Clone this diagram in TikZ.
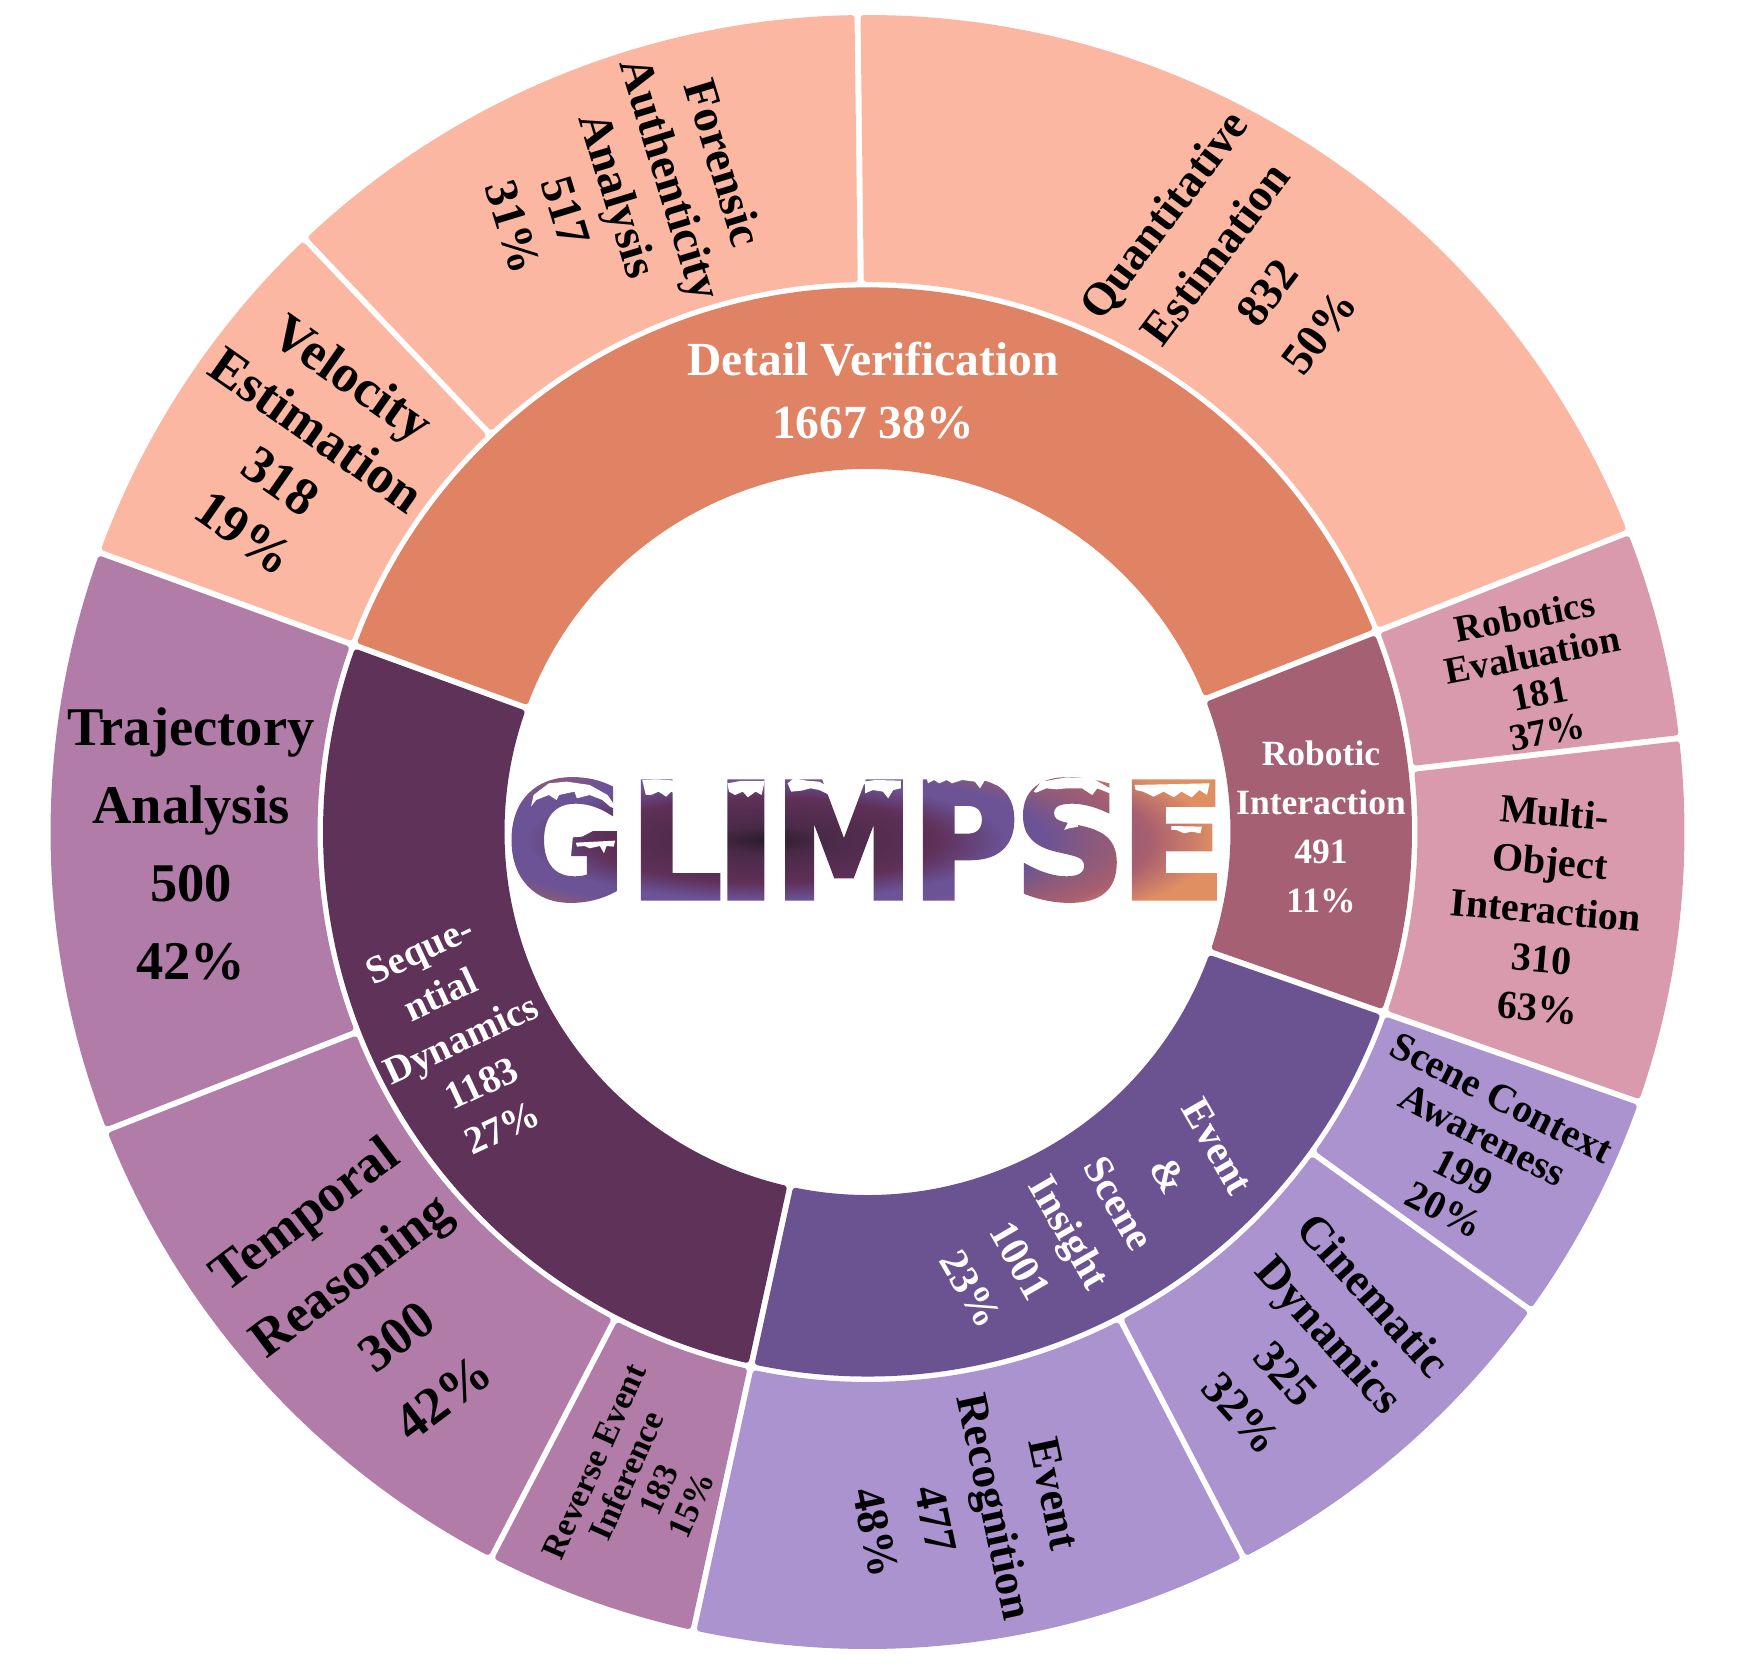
\documentclass[tikz,border=0pt]{standalone}
\usepackage{fontspec}
\usetikzlibrary{fadings,shadings}
\setmainfont{Liberation Serif}
\newfontfamily\logofont{DejaVu Sans}[BoldFeatures={FakeBold=3}]
\definecolor{peach}{HTML}{FBB7A2}
\definecolor{detailc}{HTML}{E08264}
\definecolor{roboin}{HTML}{A56074}
\definecolor{roboout}{HTML}{DA9AAD}
\definecolor{eventin}{HTML}{6B5391}
\definecolor{eventout}{HTML}{AB93CF}
\definecolor{seqin}{HTML}{5F3259}
\definecolor{seqout}{HTML}{B27CA8}
\definecolor{lgA}{HTML}{2A1C2A}
\definecolor{lgB}{HTML}{4A2A48}
\definecolor{lgC}{HTML}{5F3058}
\definecolor{lgD}{HTML}{6B5396}
\definecolor{lgE}{HTML}{8A5A7C}
\definecolor{lgF}{HTML}{A85F70}
\definecolor{lgG}{HTML}{E08F63}
\pgfdeclareradialshading{logoshade}{\pgfpointorigin}{color(0bp)=(lgA); color(2.95bp)=(lgB); color(8.85bp)=(lgC); color(12.5bp)=(lgD); color(14.5bp)=(lgD); color(17bp)=(lgE); color(20bp)=(lgF); color(23.5bp)=(lgG); color(50bp)=(lgG)}
\begin{tikzfadingfrompicture}[name=glimpsefade,x=1pt,y=1pt]
\path (-480,-120) rectangle (480,120);
\tikzset{logoletter/.style={text=transparent!0,inner sep=0pt,font=\logofont\bfseries\fontsize{100}{100}\selectfont}}
\node[logoletter,xscale=1.45,yscale=1.6] (fG) at (-200,0) {G};
\node[logoletter,xscale=1.45,yscale=1.6] (fL) at (-90,0) {L};
\node[logoletter,xscale=1.7,yscale=1.6] (fI) at (-20,0) {I};
\node[logoletter,xscale=1.4,yscale=1.6] (fM) at (78,0) {M};
\node[logoletter,xscale=1.45,yscale=1.6] (fP) at (199,0) {P};
\node[logoletter,xscale=1.55,yscale=1.6] (fS) at (304,0) {S};
\node[logoletter,xscale=1.55,yscale=1.6] (fE) at (407,0) {E};
\end{tikzfadingfrompicture}
\newcommand\gapd{6}
\newcommand\ringsector[5]{%
 \pgfmathsetmacro\oa{#1+asin(\gapd/#4)}%
 \pgfmathsetmacro\ob{#2-asin(\gapd/#4)}%
 \pgfmathsetmacro\ia{#1+asin(\gapd/#3)}%
 \pgfmathsetmacro\ib{#2-asin(\gapd/#3)}%
 \path[fill=#5,draw=#5,line width=6pt,line join=round] (\oa:#4) arc[start angle=\oa,end angle=\ob,radius=#4] -- (\ib:#3) arc[start angle=\ib,end angle=\ia,radius=#3] -- cycle;}
\newcommand\lab[8]{\node[align=center,inner sep=0pt,rotate=#4,text=#7,font=\bfseries\fontsize{#5}{#6}\selectfont] (#1) at ({#2-867.5},{832-#3}) {#8};}
\begin{document}
\begin{tikzpicture}[x=1pt,y=1pt]
\useasboundingbox (-867.5,-832) rectangle (876.5,832);
\fill[white] (-867.5,-832) rectangle (876.5,832);
% outer ring
\def\ra{553}\def\rb{814}
\ringsector{21.5}{90.7}{\ra}{\rb}{peach}
\ringsector{90.7}{133.5}{\ra}{\rb}{peach}
\ringsector{133.5}{160}{\ra}{\rb}{peach}
\ringsector{160}{201.4}{\ra}{\rb}{seqout}
\ringsector{201.4}{242.6}{\ra}{\rb}{seqout}
\ringsector{242.6}{257.7}{\ra}{\rb}{seqout}
\ringsector{-102.3}{-62.6}{\ra}{\rb}{eventout}
\ringsector{-62.6}{-35.8}{\ra}{\rb}{eventout}
\ringsector{-35.8}{-19.3}{\ra}{\rb}{eventout}
\ringsector{-19.3}{6.6}{\ra}{\rb}{roboout}
\ringsector{6.6}{21.5}{\ra}{\rb}{roboout}
% middle ring
\def\rc{366}\def\rd{541.5}
\ringsector{21.5}{160}{\rc}{\rd}{detailc}
\ringsector{160}{257.7}{\rc}{\rd}{seqin}
\ringsector{-102.3}{-19.3}{\rc}{\rd}{eventin}
\ringsector{-19.3}{21.5}{\rc}{\rd}{roboin}
% labels
\lab{lDetail}{873}{391}{0}{47.5}{63}{white}{Detail Verification\\1667 38\%}
\lab{lRobotic}{1321}{827}{0}{35.5}{49}{white}{Robotic\\Interaction\\491\\11\%}
\lab{lEvent}{1094}{1218}{-60}{41}{57}{white}{Event\\\&\\Scene\\Insight\\1001\\23\%}
\lab{lSeq}{461}{1039}{25}{39}{49}{white}{Seque-\\ntial\\Dynamics\\1183\\27\%}
\lab{oQuant}{1241}{273}{53}{46}{65}{black}{Quantitative\\Estimation\\832\\50\%}
\lab{oForensic}{619}{195}{-73}{47}{55}{black}{Forensic\\Authenticity\\Analysis\\517\\31\%}
\lab{oVelocity}{299}{455}{-35}{53}{63}{black}{Velocity\\Estimation\\318\\19\%}
\lab{oTraj}{191}{843.5}{0}{54.5}{78}{black}{Trajectory\\Analysis\\500\\42\%}
\lab{oTemporal}{373}{1305}{37}{53}{77}{black}{Temporal\\Reasoning\\300\\42\%}
\lab{oReverse}{643}{1483}{66}{34}{35.5}{black}{Reverse Event\\Inference\\183\\15\%}
\lab{oEvent}{965}{1513}{-78}{45}{61}{black}{Event\\Recognition\\477\\48\%}
\lab{oCine}{1308}{1354}{-48}{46}{59}{black}{Cinematic\\Dynamics\\325\\32\%}
\lab{oScene}{1473}{1154}{-27}{40}{42}{black}{Scene Context\\Awareness\\199\\20\%}
\lab{oMulti}{1546}{910}{-5}{40}{49}{black}{Multi-\\Object\\Interaction\\310\\63\%}
\lab{oRobotics}{1536}{674}{11}{38}{39}{black}{Robotics\\Evaluation\\181\\37\%}
% logo
\shade[shading=logoshade,path fading=glimpsefade,fit fading=false,fading transform={shift={(-101.5,-8)}}] (-581.5,-128) rectangle (378.5,112);
\begin{scope}[shift={(-387.5,112)},x=0.5102pt,y=-0.3333pt]
\tikzset{snowcap/.style={fill=white,draw=none}}
\fill[snowcap] (100,260)--(105,225)--(135,190)--(170,185)--(215,195)--(250,225)--(270,270)--(255,260)--(240,240)--(215,225)--(190,235)--(185,215)--(155,225)--(150,240)--(135,225)--(110,240)--cycle;
\fill[snowcap] (160,415)--(158,370)--(172,335)--(210,322)--(225,330)--(200,350)--(182,352)--(178,415)--cycle;
\fill[snowcap] (188,368)--(265,362)--(262,380)--(248,378)--(243,400)--(235,378)--(215,385)--(205,378)--(190,380)--cycle;
\fill[snowcap] (172,452)--(180,430)--(200,435)--(203,448)--(190,445)--(180,455)--cycle;
\fill[snowcap] (318,180)--(345,178)--(385,182)--(385,225)--(375,215)--(365,230)--(350,215)--(335,225)--(325,225)--cycle;
\fill[snowcap] (380,385)--(395,378)--(420,388)--(455,395)--(447,425)--(438,412)--(425,425)--(415,410)--(402,445)--(390,445)--(380,410)--cycle;
\fill[snowcap] (485,190)--(510,183)--(558,183)--(552,225)--(540,215)--(525,232)--(515,215)--(500,225)--(488,215)--cycle;
\fill[snowcap] (603,190)--(615,175)--(640,182)--(665,185)--(683,200)--(685,225)--(665,210)--(648,205)--(630,212)--(610,215)--cycle;
\fill[snowcap] (750,185)--(775,180)--(825,182)--(825,205)--(810,210)--(800,235)--(790,215)--(770,210)--(755,220)--(755,195)--cycle;
\fill[snowcap] (875,170)--(930,170)--(1005,172)--(1012,195)--(990,180)--(980,205)--(970,185)--(945,180)--(925,190)--(915,180)--(900,190)--(890,180)--(878,190)--cycle;
\fill[snowcap] (940,285)--(955,270)--(970,275)--(975,295)--(958,315)--(955,325)--(940,320)--(938,300)--cycle;
\fill[snowcap] (1085,215)--(1100,185)--(1150,172)--(1200,175)--(1235,205)--(1238,222)--(1210,205)--(1200,225)--(1180,205)--(1150,205)--(1130,208)--(1110,205)--(1090,218)--cycle;
\fill[snowcap] (1145,330)--(1155,300)--(1170,310)--(1173,320)--(1155,325)--cycle;
\fill[snowcap] (1170,295)--(1225,320)--(1247,350)--(1215,325)--cycle;
\fill[snowcap] (1082,400)--(1095,392)--(1155,418)--(1135,425)--(1128,440)--(1115,425)--(1108,455)--(1098,450)--(1092,425)--cycle;
\fill[snowcap] (1283,195)--(1430,190)--(1425,225)--(1410,210)--(1395,232)--(1375,215)--(1360,232)--(1340,215)--(1320,230)--(1300,215)--(1285,210)--cycle;
\fill[snowcap] (1355,318)--(1415,320)--(1412,340)--(1395,335)--(1380,340)--(1365,330)--(1355,330)--cycle;
\fill[snowcap] (1355,405)--(1440,412)--(1415,420)--(1410,445)--(1385,438)--(1360,447)--(1358,425)--cycle;
\end{scope}
\end{tikzpicture}
\end{document}
